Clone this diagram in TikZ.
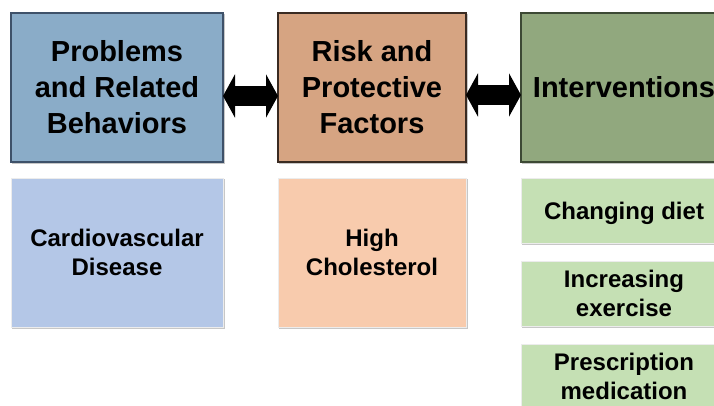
\documentclass[tikz,border=0pt]{standalone}
\usepackage{fontspec}
\setmainfont{Liberation Sans}
\usetikzlibrary{arrows.meta,backgrounds}
\definecolor{probTop}{HTML}{8AACC8}
\definecolor{probEdge}{HTML}{3E5169}
\definecolor{riskTop}{HTML}{D6A482}
\definecolor{riskEdge}{HTML}{3A2B22}
\definecolor{intTop}{HTML}{91A87E}
\definecolor{intEdge}{HTML}{3C4934}
\definecolor{probLow}{HTML}{B4C7E7}
\definecolor{riskLow}{HTML}{F8CBAD}
\definecolor{intLow}{HTML}{C5E0B4}
\tikzset{
  headbox/.style={draw=#1, line width=1.2pt, inner sep=0pt, align=center,
    font=\fontsize{29}{36}\selectfont\bfseries},
  itembox/.style={draw=white!85!gray, line width=0.8pt, inner sep=0pt, align=center,
    font=\fontsize{24}{29}\selectfont\bfseries},
  boxshade/.style={fill=black, opacity=0.22},
  link/.style={line width=20pt,
    {Triangle[length=12pt,width=43pt]}-{Triangle[length=12pt,width=43pt]}}
}
\begin{document}
\begin{tikzpicture}[x=1pt,y=-1pt]
\useasboundingbox (0,0) rectangle (714,405);
\clip (0,0) rectangle (714,405);

% column headings
\node[headbox=probEdge, fill=probTop, minimum width=212pt, minimum height=149pt]
  (prob) at (117,87.5) {Problems\\and Related\\Behaviors};
\node[headbox=riskEdge, fill=riskTop, minimum width=188pt, minimum height=149pt]
  (risk) at (372,87.5) {Risk and\\Protective\\Factors};
\node[headbox=intEdge, fill=intTop, minimum width=206pt, minimum height=149pt]
  (int) at (624,87.5) {Interventions};

% two-way links between the headings
\coordinate (l1a) at (223,96);
\coordinate (l1b) at (278,96);
\coordinate (l2a) at (466,95);
\coordinate (l2b) at (521,95);
\draw[link] (l1a) -- (l1b);
\draw[link] (l2a) -- (l2b);

% column entries
\node[itembox, fill=probLow, minimum width=212pt, minimum height=149pt]
  (cvd) at (117,252.5) {Cardiovascular\\Disease};
\node[itembox, fill=riskLow, minimum width=188pt, minimum height=149pt]
  (chol) at (372,252.5) {High\\Cholesterol};
\node[itembox, fill=intLow, minimum width=206pt, minimum height=65pt]
  (diet) at (624,210.5) {\raisebox{-3pt}[\height][\depth]{Changing diet}};
\node[itembox, fill=intLow, minimum width=206pt, minimum height=65pt]
  (exer) at (624,293.5) {Increasing\\exercise};
\node[itembox, fill=intLow, minimum width=206pt, minimum height=65pt]
  (med) at (624,376.5) {Prescription\\medication};

% soft shadows behind every box
\begin{scope}[on background layer]
  \foreach \n in {prob,risk,int,cvd,chol,diet,exer,med}
    \fill[boxshade] ([shift={(1.5,1.5)}]\n.north west) rectangle ([shift={(1.5,1.5)}]\n.south east);
\end{scope}
\end{tikzpicture}
\end{document}
